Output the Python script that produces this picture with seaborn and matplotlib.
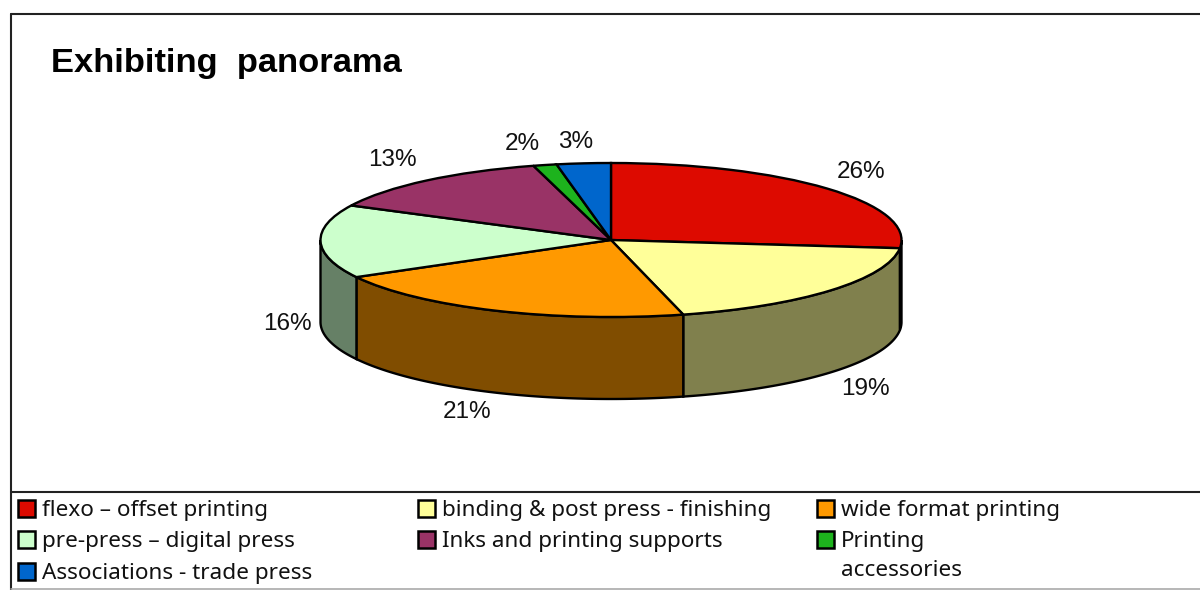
import numpy as np
import matplotlib
matplotlib.use("Agg")
import matplotlib.pyplot as plt
import seaborn as sns
from matplotlib.patches import Rectangle

# === Data ===
categories = ["flexo – offset printing", "binding & post press - finishing", "wide format printing",
              "pre-press – digital press", "Inks and printing supports", "Printing\naccessories",
              "Associations - trade press"]
# share of each slice as measured on the drawn pie
slice_shares = [26.7, 19.3, 21.0, 15.4, 13.3, 1.3, 3.0]
pct_labels = ["26%", "19%", "21%", "16%", "13%", "2%", "3%"]
slice_colors = ["#DD0A00", "#FFFF99", "#FF9900", "#CCFFCC", "#993366", "#1DB31D", "#0066CC"]

# === Layout (pixels of the 1200x590 picture) ===
CX, CY = 611, 240
RX, RY = 290.5, 77
DEPTH = 82
label_xy = [(861, 172), (865, 389), (467, 412), (287, 324), (392, 160), (522, 144), (576, 142)]
legend_cols = [18, 418, 817]
legend_rows = [508, 539, 571]
legend_cells = [(0, 0), (1, 0), (2, 0), (0, 1), (1, 1), (2, 1), (0, 2)]

sns.set_theme(style="white")
plt.rcParams["font.family"] = ["Liberation Sans", "DejaVu Sans"]
palette = sns.color_palette(slice_colors)

fig = plt.figure(figsize=(12, 5.9), dpi=100, facecolor="white")

# pie axes: one data unit is one radius, stretched into an ellipse
ax = fig.add_axes([0, 0, 1, 1])
x0, x1 = -CX / RX, (1200 - CX) / RX
y0, y1 = (CY - 590) / RY, CY / RY

# side wall first, only the part of each slice facing the viewer
edges = np.cumsum([0] + slice_shares) / sum(slice_shares) * 360
for i, color in enumerate(palette):
    # clockwise from the top, the front half is between 90 and 270 degrees
    start = max(edges[i], 90)
    end = min(edges[i + 1], 270)
    if start >= end:
        continue
    t = np.radians(np.linspace(start, end, 80))
    xs = np.sin(t)
    ys = np.cos(t)
    wall_x = np.concatenate([xs, xs[::-1]])
    wall_y = np.concatenate([ys, ys[::-1] - DEPTH / RY])
    wall_color = tuple(c * 0.5 for c in color)
    ax.fill(wall_x, wall_y, facecolor=wall_color, edgecolor="black", linewidth=1.7, zorder=1)

wedges, _ = ax.pie(slice_shares, colors=palette, startangle=90, counterclock=False, radius=1,
                   wedgeprops={"edgecolor": "black", "linewidth": 1.7, "zorder": 2})
ax.set_aspect("auto")
ax.set_xlim(x0, x1)
ax.set_ylim(y0, y1)
ax.axis("off")

# overlay in picture pixels for frame and texts
ov = fig.add_axes([0, 0, 1, 1], facecolor="none")
ov.set_xlim(0, 1200)
ov.set_ylim(590, 0)
ov.axis("off")

ov.plot([11, 11], [14, 590], color="#222222", lw=1.5)
ov.plot([11, 1200], [14, 14], color="#222222", lw=1.5)
ov.plot([11, 1200], [491.5, 491.5], color="#222222", lw=1.5)
ov.plot([11, 1200], [588.5, 588.5], color="#aaaaaa", lw=1.2)

ov.text(51, 72, "Exhibiting  panorama", fontsize=24.8, fontweight="bold", color="black",
        ha="left", va="baseline", family="Liberation Sans")

for (x, y), label in zip(label_xy, pct_labels):
    ov.text(x, y, label, fontsize=17.5, color="#111111", ha="center", va="center",
            family="Liberation Sans")

for (col, row), name, color in zip(legend_cells, categories, palette):
    left = legend_cols[col]
    mid = legend_rows[row]
    ov.add_patch(Rectangle((left, mid - 8.5), 16.5, 17, facecolor=color, edgecolor="black", linewidth=1.8))
    lines = name.split("\n")
    for j, line in enumerate(lines):
        ov.text(left + 24, mid + 8 + j * 29, line, fontsize=16.2, color="#111111",
                ha="left", va="baseline", family="Noto Sans")

fig.savefig("out.png", dpi=100)
